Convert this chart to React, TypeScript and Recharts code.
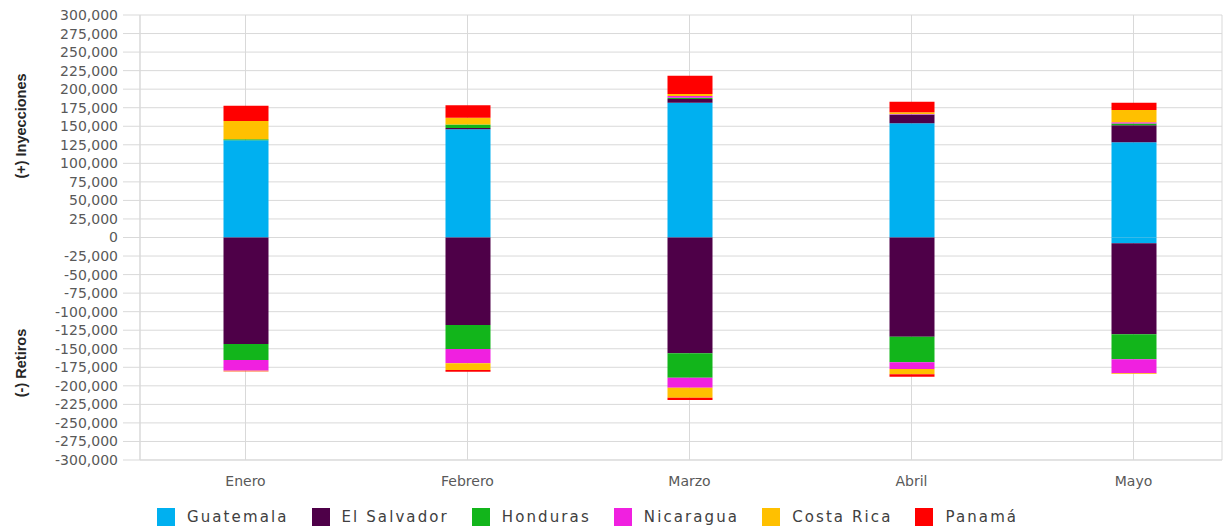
import { BarChart, Bar, XAxis, YAxis, CartesianGrid } from 'recharts';

const months = ['Enero', 'Febrero', 'Marzo', 'Abril', 'Mayo'];

const countries = ['Guatemala', 'El Salvador', 'Honduras', 'Nicaragua', 'Costa Rica', 'Panamá'];
const colors = ['#00b0f0', '#4e0048', '#12b51b', '#f020e0', '#ffc000', '#ff0000'];

// (+) Inyecciones
const guatemalaIny = [131000, 146000, 181800, 154000, 128300];
const elSalvadorIny = [0, 1500, 5000, 11500, 23000];
const hondurasIny = [1400, 5000, 1500, 500, 2500];
const nicaraguaIny = [0, 0, 2500, 500, 1500];
const costaRicaIny = [24700, 9000, 2700, 2300, 16600];
const panamaIny = [20600, 16700, 24700, 14300, 9900];

// (-) Retiros
const guatemalaRet = [0, 0, 0, 0, -7800];
const elSalvadorRet = [-143600, -118000, -156200, -133700, -122700];
const hondurasRet = [-21600, -32300, -32800, -34600, -33700];
const nicaraguaRet = [-14400, -19300, -13500, -9000, -18900];
const costaRicaRet = [-800, -9100, -13500, -7200, -800];
const panamaRet = [-200, -2200, -3100, -3100, 0];

const yTicks = [
    300000, 275000, 250000, 225000, 200000, 175000, 150000, 125000, 100000, 75000, 50000, 25000, 0,
    -25000, -50000, -75000, -100000, -125000, -150000, -175000, -200000, -225000, -250000, -275000, -300000,
];

const inyecciones = [guatemalaIny, elSalvadorIny, hondurasIny, nicaraguaIny, costaRicaIny, panamaIny];
const retiros = [guatemalaRet, elSalvadorRet, hondurasRet, nicaraguaRet, costaRicaRet, panamaRet];

const data = months.map((m, i) => {
    const row: Record<string, string | number> = { month: m };
    countries.forEach((c, k) => {
        row[`iny${k}`] = inyecciones[k][i];
        row[`ret${k}`] = retiros[k][i];
    });
    return row;
});

const fmt = (v: number) => v.toLocaleString('en-US');

export default function App() {
    return (
        <div style={{ position: 'absolute', left: 0, top: 0, width: 1232, height: 531, background: '#fff' }}>
            <BarChart
                width={1232}
                height={531}
                data={data}
                stackOffset="sign"
                margin={{ top: 15, right: 10, bottom: 41, left: 0 }}
            >
                <CartesianGrid stroke="#d9d9d9" />
                <XAxis
                    dataKey="month"
                    height={30}
                    padding={{ left: -5.5, right: -22.5 }}
                    axisLine={{ stroke: '#d9d9d9' }}
                    tickLine={false}
                    tickMargin={10}
                    tick={{ fontSize: 14, fill: '#595959', fontFamily: 'DejaVu Sans' }}
                />
                <YAxis
                    width={140}
                    domain={[-300000, 300000]}
                    ticks={yTicks}
                    interval={0}
                    tickFormatter={fmt}
                    axisLine={{ stroke: '#d9d9d9' }}
                    tickLine={{ stroke: '#d9d9d9' }}
                    tickSize={17}
                    tickMargin={5}
                    tick={{ fontSize: 14, fill: '#595959', fontFamily: 'DejaVu Sans' }}
                />
                {countries.flatMap((c, k) => [
                    <Bar
                        key={`iny${k}`}
                        dataKey={`iny${k}`}
                        name={c}
                        stackId="a"
                        fill={colors[k]}
                        barSize={45}
                        isAnimationActive={false}
                    />,
                    <Bar
                        key={`ret${k}`}
                        dataKey={`ret${k}`}
                        name={c}
                        stackId="a"
                        fill={colors[k]}
                        barSize={45}
                        isAnimationActive={false}
                    />,
                ])}
            </BarChart>

            {/* axis titles */}
            <div style={titleStyle(126)}>(+) Inyecciones</div>
            <div style={titleStyle(363)}>(-) Retiros</div>

            {/* legend */}
            <div
                style={{
                    position: 'absolute',
                    left: 157,
                    top: 508,
                    display: 'flex',
                    alignItems: 'center',
                    fontFamily: 'DejaVu Sans',
                    fontSize: 15,
                    letterSpacing: 2.1,
                    color: '#404040',
                }}
            >
                {countries.map((c, k) => (
                    <div key={c} style={{ display: 'flex', alignItems: 'center', marginRight: 23 }}>
                        <span style={{ width: 18, height: 18, background: colors[k], marginRight: 12, display: 'inline-block' }} />
                        <span>{c}</span>
                    </div>
                ))}
            </div>
        </div>
    );
}

function titleStyle(cy: number): React.CSSProperties {
    return {
        position: 'absolute',
        left: 21,
        top: cy,
        transform: 'translate(-50%, -50%) rotate(-90deg)',
        whiteSpace: 'nowrap',
        fontFamily: 'Liberation Sans',
        fontWeight: 'bold',
        fontSize: 14.5,
        color: '#262626',
    };
}
